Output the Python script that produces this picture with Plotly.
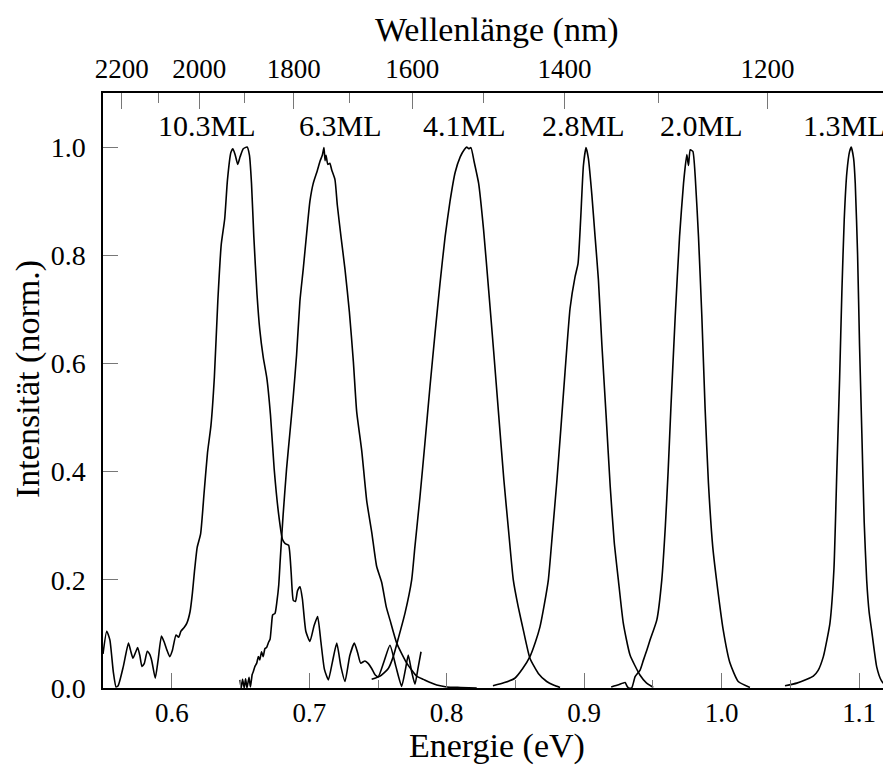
import plotly.graph_objects as go

# --- Spektren (Energie in eV, Intensität normiert) ---
e_10p3 = [0.5500, 0.5527, 0.5550, 0.5575, 0.5595, 0.5610, 0.5648, 0.5685, 0.5700, 0.5718,
          0.5740, 0.5752, 0.5768, 0.5783, 0.5800, 0.5822, 0.5840, 0.5855, 0.5880, 0.5900,
          0.5925, 0.5945, 0.5965, 0.5985, 0.6005, 0.6031, 0.6050, 0.6067, 0.6090, 0.6110,
          0.6133, 0.6150, 0.6165, 0.6185, 0.6210, 0.6235, 0.6260, 0.6285, 0.6310, 0.6335,
          0.6360, 0.6385, 0.6405, 0.6430, 0.6445, 0.6462, 0.6480, 0.6497, 0.6520, 0.6548,
          0.6565, 0.6580, 0.6597, 0.6620, 0.6640, 0.6665, 0.6692, 0.6718, 0.6745, 0.6778,
          0.6805, 0.6825, 0.6850, 0.6868, 0.6884, 0.6900, 0.6915, 0.6933, 0.6950, 0.6975,
          0.7005, 0.7035, 0.7061, 0.7085, 0.7110, 0.7139, 0.7170, 0.7200, 0.7230, 0.7260,
          0.7295, 0.7328, 0.7352, 0.7374, 0.7405, 0.7430, 0.7454, 0.7480, 0.7502, 0.7545,
          0.7587, 0.7630, 0.7672, 0.7700, 0.7720, 0.7745, 0.7769, 0.7790, 0.7813]
i_10p3 = [0.063, 0.105, 0.089, 0.030, 0.002, 0.004, 0.040, 0.083, 0.070, 0.055,
          0.068, 0.075, 0.060, 0.040, 0.045, 0.068, 0.062, 0.050, 0.018, 0.050,
          0.096, 0.085, 0.070, 0.058, 0.070, 0.098, 0.094, 0.105, 0.112, 0.120,
          0.141, 0.175, 0.215, 0.260, 0.285, 0.360, 0.435, 0.485, 0.575, 0.715,
          0.820, 0.867, 0.939, 0.990, 0.997, 0.985, 0.968, 0.982, 0.997, 1.000,
          0.985, 0.933, 0.834, 0.728, 0.663, 0.612, 0.572, 0.505, 0.405, 0.320,
          0.275, 0.267, 0.264, 0.215, 0.162, 0.160, 0.180, 0.187, 0.165, 0.105,
          0.086, 0.115, 0.132, 0.085, 0.035, 0.015, 0.050, 0.083, 0.040, 0.012,
          0.060, 0.083, 0.065, 0.046, 0.050, 0.045, 0.036, 0.024, 0.021, 0.050,
          0.079, 0.040, 0.003, 0.035, 0.061, 0.030, 0.007, 0.035, 0.067]

e_6p3 = [0.6496, 0.6505, 0.6515, 0.6527, 0.6537, 0.6547, 0.6562, 0.6572, 0.6585, 0.6593,
         0.6605, 0.6618, 0.6630, 0.6640, 0.6653, 0.6665, 0.6678, 0.6690, 0.6705, 0.6715,
         0.6725, 0.6734, 0.6751, 0.6765, 0.6778, 0.6790, 0.6810, 0.6835, 0.6859, 0.6883,
         0.6908, 0.6932, 0.6956, 0.6981, 0.7005, 0.7029, 0.7058, 0.7080, 0.7095, 0.7107,
         0.7115, 0.7122, 0.7135, 0.7150, 0.7163, 0.7187, 0.7204, 0.7231, 0.7260, 0.7292,
         0.7321, 0.7345, 0.7382, 0.7418, 0.7455, 0.7490, 0.7527, 0.7560, 0.7587, 0.7636,
         0.7709, 0.7781, 0.7830, 0.7880, 0.7927, 0.8000, 0.8100, 0.8218]
i_6p3 = [0.015, 0.000, 0.016, 0.000, 0.017, 0.000, 0.020, 0.002, 0.025, 0.030,
         0.040, 0.046, 0.058, 0.052, 0.067, 0.058, 0.073, 0.075, 0.085, 0.090,
         0.115, 0.135, 0.138, 0.160, 0.190, 0.241, 0.320, 0.405, 0.471, 0.537,
         0.616, 0.715, 0.774, 0.840, 0.900, 0.933, 0.956, 0.975, 0.985, 0.999,
         0.975, 0.985, 0.968, 0.970, 0.958, 0.940, 0.893, 0.834, 0.774, 0.695,
         0.603, 0.511, 0.438, 0.346, 0.287, 0.225, 0.195, 0.150, 0.126, 0.083,
         0.046, 0.022, 0.016, 0.010, 0.0055, 0.002, 0.001, 0.000]

e_4p1 = [0.7454, 0.7515, 0.7575, 0.7611, 0.7648, 0.7696, 0.7745, 0.7768, 0.7805, 0.7841,
         0.7878, 0.7915, 0.7951, 0.7988, 0.8024, 0.8061, 0.8098, 0.8127, 0.8145, 0.8160,
         0.8176, 0.8200, 0.8232, 0.8268, 0.8305, 0.8341, 0.8378, 0.8415, 0.8451, 0.8484,
         0.8520, 0.8557, 0.8605, 0.8666, 0.8727, 0.8780, 0.8824]
i_4p1 = [0.016, 0.022, 0.036, 0.058, 0.092, 0.138, 0.200, 0.260, 0.353, 0.452,
         0.557, 0.656, 0.748, 0.834, 0.900, 0.953, 0.982, 0.995, 1.000, 0.997,
         0.999, 0.972, 0.933, 0.847, 0.735, 0.623, 0.504, 0.386, 0.287, 0.200,
         0.150, 0.107, 0.055, 0.027, 0.012, 0.005, 0.001]

e_2p8 = [0.8336, 0.8420, 0.8495, 0.8550, 0.8605, 0.8645, 0.8678, 0.8710, 0.8739, 0.8770,
         0.8800, 0.8830, 0.8860, 0.8897, 0.8933, 0.8955, 0.8974, 0.8994, 0.9013, 0.9030,
         0.9055, 0.9079, 0.9103, 0.9128, 0.9159, 0.9189, 0.9218, 0.9248, 0.9284, 0.9333,
         0.9405, 0.9450, 0.9502]
i_2p8 = [0.004, 0.010, 0.018, 0.035, 0.058, 0.085, 0.113, 0.155, 0.200, 0.290,
         0.380, 0.480, 0.583, 0.702, 0.760, 0.785, 0.867, 0.966, 0.999, 0.979,
         0.913, 0.834, 0.755, 0.636, 0.504, 0.372, 0.270, 0.200, 0.120, 0.061,
         0.024, 0.010, 0.001]

e_2p0 = [0.9196, 0.9250, 0.9297, 0.9310, 0.9322, 0.9345, 0.9370, 0.9406, 0.9431, 0.9455,
         0.9479, 0.9528, 0.9564, 0.9590, 0.9610, 0.9630, 0.9662, 0.9693, 0.9722, 0.9746,
         0.9758, 0.9771, 0.9790, 0.9807, 0.9831, 0.9855, 0.9879, 0.9903, 0.9935, 0.9962,
         1.0011, 1.0060, 1.0120, 1.0205]
i_2p0 = [0.002, 0.006, 0.010, 0.004, 0.000, 0.000, 0.021, 0.033, 0.052, 0.070,
         0.089, 0.126, 0.200, 0.300, 0.400, 0.517, 0.689, 0.834, 0.933, 0.986,
         0.966, 0.995, 0.992, 0.946, 0.834, 0.689, 0.517, 0.380, 0.260, 0.200,
         0.107, 0.046, 0.012, 0.001]

e_1p3 = [1.0460, 1.0546, 1.0619, 1.0666, 1.0700, 1.0739, 1.0765, 1.0787, 1.0816, 1.0837,
         1.0857, 1.0874, 1.0891, 1.0910, 1.0930, 1.0942, 1.0959, 1.0971, 1.0988, 1.1002,
         1.1019, 1.1036, 1.1054, 1.1072, 1.1090, 1.1127, 1.1160, 1.1187, 1.1224]
i_1p3 = [0.004, 0.009, 0.016, 0.022, 0.032, 0.058, 0.089, 0.120, 0.220, 0.400,
         0.570, 0.735, 0.867, 0.953, 0.992, 1.000, 0.979, 0.933, 0.801, 0.636,
         0.471, 0.307, 0.200, 0.140, 0.107, 0.039, 0.014, 0.006, 0.001]

labels = ["10.3ML", "6.3ML", "4.1ML", "2.8ML", "2.0ML", "1.3ML"]

# Wellenlängen-Achse oben
wl_major = [2200, 2000, 1800, 1600, 1400, 1200]
wl_minor = [2100, 1900, 1700, 1500, 1300]
HC = 1239.84  # eV*nm

font = "Liberation Serif"
fig = go.Figure()

series = [(e_10p3, i_10p3), (e_6p3, i_6p3), (e_4p1, i_4p1),
          (e_2p8, i_2p8), (e_2p0, i_2p0), (e_1p3, i_1p3)]
for (e, i), name in zip(series, labels):
    fig.add_trace(go.Scatter(x=e, y=i, mode="lines", name=name,
                             line=dict(color="black", width=1.6, shape="spline", smoothing=0.5),
                             showlegend=False))

# leere Spur, damit die obere Achse gezeichnet wird
fig.add_trace(go.Scatter(x=[HC / w for w in wl_major], y=[None] * len(wl_major),
                         xaxis="x2", mode="markers", showlegend=False, hoverinfo="skip"))

# Beschriftung der Schichtdicken
label_x = [0.6256, 0.7224, 0.8126, 0.8991, 0.9856, 1.0893]
for txt, lx in zip(labels, label_x):
    fig.add_annotation(x=lx, y=1.04, xref="x", yref="y", text=txt, showarrow=False,
                       font=dict(family=font, size=30, color="black"))

# Achsentitel als Annotationen (feste Position)
title_font = dict(family=font, size=34, color="black")
fig.add_annotation(x=0.5, y=-0.098, xref="paper", yref="paper", text="Energie (eV)",
                   showarrow=False, font=title_font, yanchor="middle")
fig.add_annotation(x=0.5, y=1.106, xref="paper", yref="paper", text="Wellenlänge (nm)",
                   showarrow=False, font=title_font, yanchor="middle")
fig.add_annotation(x=-0.096, y=0.52, xref="paper", yref="paper", text="Intensität (norm.)",
                   showarrow=False, font=title_font, textangle=-90, xanchor="center")

x_range = [0.55, 1.1231]
tick_grey = "#777777"

# die Seite hat 8 px Rand -> Figur links/oben um 8 px verschoben
fig.update_layout(
    width=883, height=761,
    margin=dict(l=95, r=0, t=85, b=81),
    paper_bgcolor="white", plot_bgcolor="white",
    font=dict(family=font, color="black"),
    xaxis=dict(
        range=x_range, tickvals=[0.6, 0.7, 0.8, 0.9, 1.0, 1.1], tickformat=".1f",
        ticks="inside", ticklen=15, tickwidth=1, tickcolor=tick_grey,
        minor=dict(dtick=0.05, tick0=0, ticks="inside", ticklen=8, tickcolor=tick_grey),
        showline=True, linecolor="black", linewidth=1.5, showgrid=False, zeroline=False,
        tickfont=dict(family=font, size=27), ticklabelstandoff=0, automargin=False,
    ),
    xaxis2=dict(
        overlaying="x", side="top", range=x_range,
        tickvals=[HC / w for w in wl_major], ticktext=[str(w) for w in wl_major],
        ticks="inside", ticklen=16, tickwidth=1, tickcolor=tick_grey,
        minor=dict(tickvals=[HC / w for w in wl_minor], ticks="inside", ticklen=10,
                   tickcolor=tick_grey),
        showline=True, linecolor="black", linewidth=1.5, showgrid=False, zeroline=False,
        tickfont=dict(family=font, size=27), ticklabelstandoff=2, automargin=False,
    ),
    yaxis=dict(
        range=[0, 1.1], tickvals=[0.0, 0.2, 0.4, 0.6, 0.8, 1.0], tickformat=".1f",
        ticks="inside", ticklen=15, tickwidth=1, tickcolor=tick_grey,
        showline=True, linecolor="black", linewidth=1.5, showgrid=False, zeroline=False,
        tickfont=dict(family=font, size=28), ticklabelstandoff=10, automargin=False,
    ),
)

fig.write_html("out.html")
